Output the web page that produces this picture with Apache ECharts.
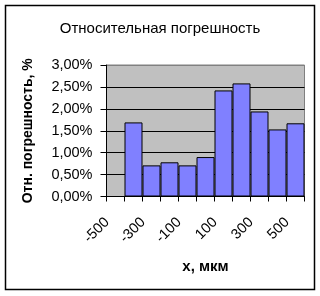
<!DOCTYPE html>
<html>
<head>
<meta charset="utf-8">
<script src="https://cdn.jsdelivr.net/npm/echarts@6/dist/echarts.min.js"></script>
<style>
html,body{margin:0;padding:0;background:#fff;}
#c{width:320px;height:296px;}
</style>
</head>
<body>
<div id="c"></div>
<script>
var categories = ['-500','-400','-300','-200','-100','0','100','200','300','400','500'];
var errorPercent = [null, 1.69, 0.71, 0.78, 0.71, 0.90, 2.42, 2.58, 1.94, 1.53, 1.67];
var titleText = 'Относительная погрешность';
var yName = 'Отн. погрешность, %';
var xName = 'x, мкм';

var FONT = "'Liberation Sans', Arial, sans-serif";
var chart = echarts.init(document.getElementById('c'), null, {renderer:'canvas'});
chart.setOption({
  animation: false,
  backgroundColor: '#fff',
  textStyle: {fontFamily: FONT},
  title: {
    text: titleText, left: 'center', top: 16,
    textStyle: {fontFamily: FONT, fontSize: 15, fontWeight: 'normal', color: '#000'}
  },
  graphic: [{
    type: 'rect', silent: true, z: 100,
    shape: {x: 5.5, y: 5.5, width: 309, height: 284},
    style: {fill: 'none', stroke: '#000', lineWidth: 1.5}
  }],
  grid: {
    left: 106.5, right: 15.5, top: 65, bottom: 99.5,
    show: true, backgroundColor: '#C0C0C0', borderColor: '#808080', borderWidth: 1
  },
  xAxis: {
    type: 'category', data: categories, boundaryGap: true,
    name: xName, nameLocation: 'middle', nameGap: 63,
    nameTextStyle: {fontFamily: FONT, fontSize: 15, fontWeight: 'bold', color: '#000'},
    axisLine: {show: true, lineStyle: {color: '#000', width: 1}},
    axisTick: {show: true, interval: 0, length: 5, lineStyle: {color: '#000'}},
    axisLabel: {
      interval: 1, rotate: 45, margin: 15, padding: [0, 12, 0, 0],
      fontFamily: FONT, fontSize: 14.5, color: '#000'
    },
    splitLine: {show: false}
  },
  yAxis: {
    type: 'value', min: 0, max: 3, interval: 0.5,
    name: yName, nameLocation: 'middle', nameGap: 71,
    nameTextStyle: {fontFamily: FONT, fontSize: 14, fontWeight: 'bold', color: '#000'},
    axisLine: {show: true, lineStyle: {color: '#000', width: 1}},
    axisTick: {show: true, length: 6, lineStyle: {color: '#000'}},
    axisLabel: {
      margin: 14, fontFamily: FONT, fontSize: 14.5, color: '#000',
      formatter: function (v) { return v.toFixed(2).replace('.', ',') + '%'; }
    },
    splitLine: {show: true, lineStyle: {color: ['#000','#000','#000','#000','#000','#000','#808080'], width: 1}}
  },
  series: [{
    type: 'bar', data: errorPercent, barCategoryGap: 0, barGap: 0,
    itemStyle: {color: '#8080FF', borderColor: '#000', borderWidth: 1}
  }]
});
</script>
</body>
</html>
